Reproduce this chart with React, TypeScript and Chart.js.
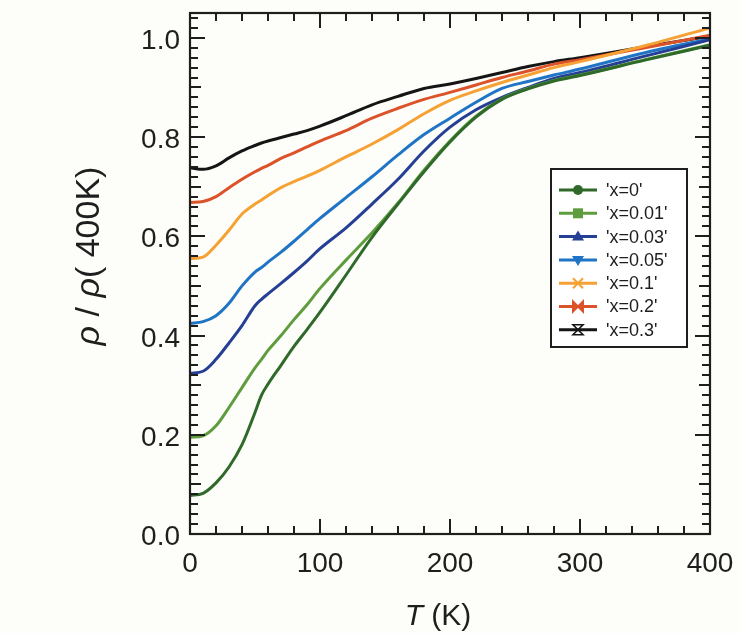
import React, { useEffect, useRef } from "react";
import { Chart, registerables } from "chart.js";

Chart.register(...registerables);

// ---- data ----
const temperatures = [0, 10, 20, 30, 40, 50, 55, 60, 70, 80, 90, 100, 120, 140, 160, 180, 200, 220, 240, 260, 280, 300, 350, 400];

const rhoX000 = [0.078, 0.082, 0.103, 0.135, 0.180, 0.245, 0.280, 0.302, 0.340, 0.378, 0.412, 0.447, 0.522, 0.598, 0.665, 0.730, 0.790, 0.840, 0.876, 0.897, 0.913, 0.924, 0.955, 0.985];
const rhoX001 = [0.195, 0.198, 0.218, 0.255, 0.295, 0.335, 0.352, 0.370, 0.400, 0.432, 0.462, 0.495, 0.552, 0.607, 0.667, 0.733, 0.792, 0.842, 0.877, 0.898, 0.914, 0.925, 0.956, 0.986];
const rhoX003 = [0.324, 0.328, 0.352, 0.385, 0.420, 0.460, 0.473, 0.484, 0.505, 0.527, 0.550, 0.575, 0.617, 0.665, 0.715, 0.772, 0.820, 0.855, 0.880, 0.900, 0.918, 0.930, 0.963, 0.996];
const rhoX005 = [0.424, 0.428, 0.440, 0.465, 0.500, 0.528, 0.537, 0.548, 0.568, 0.590, 0.613, 0.636, 0.678, 0.720, 0.764, 0.805, 0.838, 0.870, 0.898, 0.912, 0.925, 0.937, 0.970, 0.998];
const rhoX010 = [0.555, 0.558, 0.582, 0.612, 0.645, 0.665, 0.673, 0.682, 0.698, 0.710, 0.721, 0.733, 0.760, 0.786, 0.815, 0.847, 0.874, 0.893, 0.910, 0.925, 0.940, 0.952, 0.984, 1.020];
const rhoX020 = [0.668, 0.670, 0.680, 0.698, 0.715, 0.730, 0.737, 0.743, 0.757, 0.768, 0.780, 0.792, 0.813, 0.838, 0.858, 0.876, 0.890, 0.905, 0.920, 0.933, 0.947, 0.956, 0.980, 1.005];
const rhoX030 = [0.738, 0.735, 0.742, 0.758, 0.772, 0.783, 0.788, 0.792, 0.799, 0.806, 0.813, 0.822, 0.843, 0.865, 0.882, 0.898, 0.907, 0.918, 0.930, 0.942, 0.952, 0.960, 0.982, 1.003];

const seriesLabels = ["'x=0'", "'x=0.01'", "'x=0.03'", "'x=0.05'", "'x=0.1'", "'x=0.2'", "'x=0.3'"];
const seriesValues = [rhoX000, rhoX001, rhoX003, rhoX005, rhoX010, rhoX020, rhoX030];
const seriesColors = ["#2f6a2b", "#5e9c3d", "#243f94", "#1f74c6", "#f6a133", "#dc5229", "#151515"];
const seriesMarkers = ["circle", "square", "triangleUp", "triangleDown", "cross", "bowtie", "hourglass"];

const xTickValues = [0, 100, 200, 300, 400];
const yTickValues = [0, 0.2, 0.4, 0.6, 0.8, 1.0];

const FONT = "'Liberation Sans', Arial, Helvetica, sans-serif";
const INK = "#1e1e1e";

function drawMarker(ctx: CanvasRenderingContext2D, kind: string, x: number, y: number, color: string) {
  const r = 5;
  ctx.save();
  ctx.fillStyle = color;
  ctx.strokeStyle = color;
  ctx.lineWidth = 2;
  ctx.beginPath();
  switch (kind) {
    case "circle":
      ctx.arc(x, y, r, 0, Math.PI * 2);
      ctx.fill();
      break;
    case "square":
      ctx.fillRect(x - r, y - r, 2 * r, 2 * r);
      break;
    case "triangleUp":
      ctx.moveTo(x, y - r - 1);
      ctx.lineTo(x + r + 1, y + r - 1);
      ctx.lineTo(x - r - 1, y + r - 1);
      ctx.closePath();
      ctx.fill();
      break;
    case "triangleDown":
      ctx.moveTo(x, y + r + 1);
      ctx.lineTo(x + r + 1, y - r + 1);
      ctx.lineTo(x - r - 1, y - r + 1);
      ctx.closePath();
      ctx.fill();
      break;
    case "cross":
      ctx.moveTo(x - r, y - r);
      ctx.lineTo(x + r, y + r);
      ctx.moveTo(x + r, y - r);
      ctx.lineTo(x - r, y + r);
      ctx.stroke();
      break;
    case "bowtie":
      ctx.moveTo(x - r, y - r);
      ctx.lineTo(x, y);
      ctx.lineTo(x - r, y + r);
      ctx.closePath();
      ctx.moveTo(x + r, y - r);
      ctx.lineTo(x, y);
      ctx.lineTo(x + r, y + r);
      ctx.closePath();
      ctx.stroke();
      ctx.fill();
      break;
    case "hourglass":
      ctx.lineWidth = 1.6;
      ctx.moveTo(x - r, y - r);
      ctx.lineTo(x + r, y - r);
      ctx.lineTo(x - r, y + r);
      ctx.lineTo(x + r, y + r);
      ctx.closePath();
      ctx.stroke();
      break;
  }
  ctx.restore();
}

function drawMixed(ctx: CanvasRenderingContext2D, parts: [string, boolean][], size: number, cx: number, baseY: number) {
  let total = 0;
  const widths: number[] = [];
  for (const [txt, it] of parts) {
    ctx.font = `${it ? "italic " : ""}${size}px ${FONT}`;
    const w = ctx.measureText(txt).width;
    widths.push(w);
    total += w;
  }
  let x = cx - total / 2;
  parts.forEach(([txt, it], i) => {
    ctx.font = `${it ? "italic " : ""}${size}px ${FONT}`;
    ctx.fillText(txt, x, baseY);
    x += widths[i];
  });
}

const decorPlugin = {
  id: "decor",
  beforeDraw(chart: any) {
    const ctx = chart.ctx;
    ctx.save();
    ctx.fillStyle = "#fdfdf9";
    ctx.fillRect(0, 0, chart.width, chart.height);
    ctx.restore();
  },
  afterDatasetsDraw(chart: any) {
    const ctx: CanvasRenderingContext2D = chart.ctx;
    const { left, right, top, bottom } = chart.chartArea;
    const xs = chart.scales.x;
    const ys = chart.scales.y;
    ctx.save();
    ctx.strokeStyle = INK;
    ctx.lineWidth = 2;
    // inward ticks, y axis (left & right)
    for (let i = 0; i <= 52; i++) {
      const v = i * 0.02;
      const py = Math.round(ys.getPixelForValue(v));
      const len = i % 10 === 0 ? 15 : i % 5 === 0 ? 11 : 8;
      ctx.beginPath();
      ctx.moveTo(left, py);
      ctx.lineTo(left + len, py);
      ctx.moveTo(right, py);
      ctx.lineTo(right - len, py);
      ctx.stroke();
    }
    // inward ticks, x axis (bottom & top)
    for (let i = 0; i <= 20; i++) {
      const v = i * 20;
      const px = Math.round(xs.getPixelForValue(v));
      const len = i % 5 === 0 ? 15 : 8;
      ctx.beginPath();
      ctx.moveTo(px, bottom);
      ctx.lineTo(px, bottom - len);
      ctx.moveTo(px, top);
      ctx.lineTo(px, top + len);
      ctx.stroke();
    }
    // frame
    ctx.lineWidth = 2.2;
    ctx.strokeRect(left, top, right - left, bottom - top);

    // tick labels
    ctx.fillStyle = INK;
    ctx.font = `28px ${FONT}`;
    ctx.textBaseline = "alphabetic";
    ctx.textAlign = "center";
    xTickValues.forEach((v) => {
      ctx.fillText(String(v), xs.getPixelForValue(v), bottom + 38);
    });
    ctx.textAlign = "right";
    yTickValues.forEach((v) => {
      ctx.fillText(v.toFixed(1), left - 10, ys.getPixelForValue(v) + 11);
    });

    // legend
    const bx = 551, by = 169, bw = 136, bh = 178;
    ctx.fillStyle = "#ffffff";
    ctx.fillRect(bx, by, bw, bh);
    ctx.lineWidth = 2;
    ctx.strokeStyle = INK;
    ctx.strokeRect(bx, by, bw, bh);
    chart.data.datasets.forEach((ds: any, i: number) => {
      const ry = by + 21 + i * 23.3;
      ctx.strokeStyle = ds.borderColor;
      ctx.lineWidth = 3;
      ctx.beginPath();
      ctx.moveTo(bx + 8, ry);
      ctx.lineTo(bx + 46, ry);
      ctx.stroke();
      drawMarker(ctx, seriesMarkers[i], bx + 27, ry, ds.borderColor);
      ctx.fillStyle = INK;
      ctx.font = `18px ${FONT}`;
      ctx.textAlign = "left";
      ctx.textBaseline = "middle";
      ctx.fillText(ds.label, bx + 55, ry + 1);
    });

    // axis titles
    ctx.fillStyle = INK;
    ctx.textAlign = "left";
    ctx.textBaseline = "alphabetic";
    drawMixed(ctx, [["T", true], [" (K)", false]], 30, (left + right) / 2 - 12, 625);
    ctx.save();
    ctx.translate(99, 256);
    ctx.rotate(-Math.PI / 2);
    drawMixed(ctx, [["ρ", true], [" / ", false], ["ρ", true], ["( 400K)", false]], 34, 0, 0);
    ctx.restore();
    ctx.restore();
  },
};

export default function App() {
  const canvasRef = useRef<HTMLCanvasElement | null>(null);

  useEffect(() => {
    document.body.style.margin = "0";
    const canvas = canvasRef.current;
    if (!canvas) return;
    const datasets = seriesValues.map((vals, i) => ({
      label: seriesLabels[i],
      data: temperatures.map((t, j) => ({ x: t, y: vals[j] })),
      borderColor: seriesColors[i],
      backgroundColor: seriesColors[i],
      borderWidth: 3,
      pointRadius: 0,
      fill: false,
      cubicInterpolationMode: "monotone" as const,
    }));
    const chart = new Chart(canvas, {
      type: "line",
      data: { datasets },
      options: {
        responsive: false,
        animation: false,
        devicePixelRatio: 1,
        layout: { padding: { top: 13, right: 30, left: 0, bottom: 0 } },
        plugins: { legend: { display: false }, tooltip: { enabled: false } },
        scales: {
          x: {
            type: "linear",
            min: 0,
            max: 400,
            ticks: { display: false },
            grid: { display: false, drawTicks: false },
            border: { display: false },
            afterFit: (s: any) => {
              s.height = 99;
            },
          },
          y: {
            type: "linear",
            min: 0,
            max: 1.05,
            ticks: { display: false },
            grid: { display: false, drawTicks: false },
            border: { display: false },
            afterFit: (s: any) => {
              s.width = 190;
            },
          },
        },
      },
      plugins: [decorPlugin],
    });
    return () => chart.destroy();
  }, []);

  return <canvas ref={canvasRef} width={740} height={633} style={{ display: "block" }} />;
}
